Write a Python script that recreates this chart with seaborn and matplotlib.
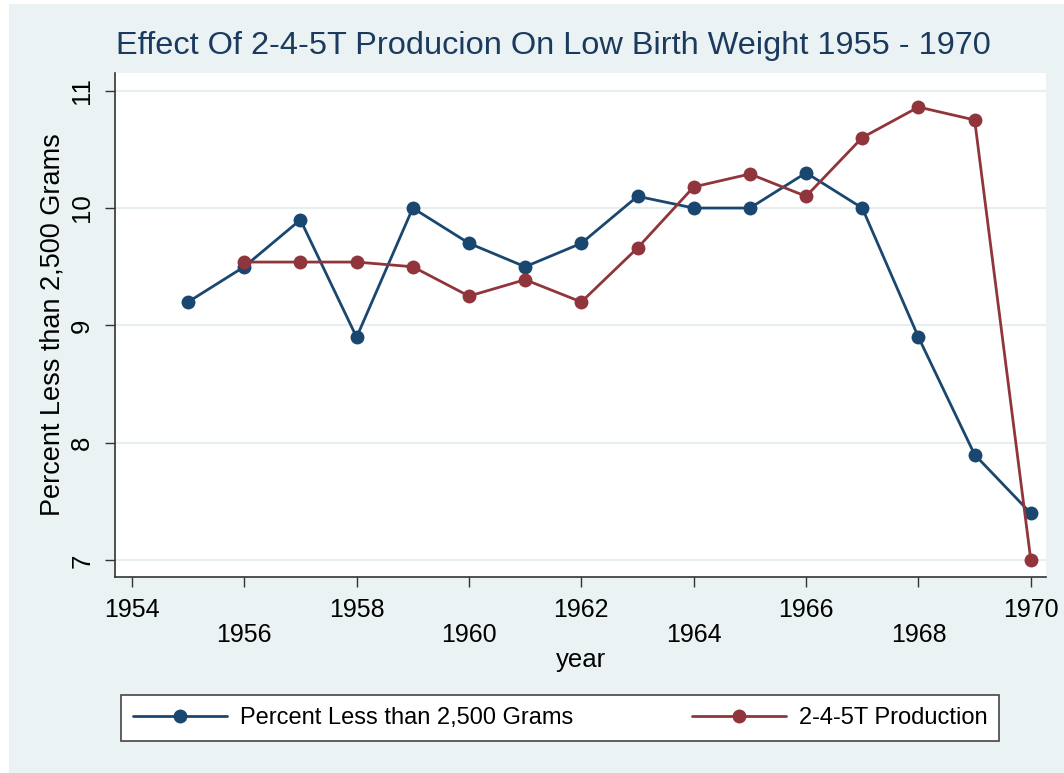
import numpy as np
import pandas as pd
import seaborn as sns
import matplotlib.pyplot as plt
from matplotlib.patches import Rectangle

years = list(range(1955, 1971))
low_birth_pct = [9.2, 9.5, 9.9, 8.9, 10.0, 9.7, 9.5, 9.7, 10.1, 10.0, 10.0, 10.3, 10.0, 8.9, 7.9, 7.4]
production = [np.nan, 9.54, 9.54, 9.54, 9.5, 9.25, 9.39, 9.2, 9.66, 10.18, 10.29, 10.1, 10.6, 10.86, 10.75, 7.0]
series_names = ["Percent Less than 2,500 Grams", "2-4-5T Production"]
series_colors = ["#1a476f", "#90353b"]
x_ticks = list(range(1954, 1971, 2))
y_ticks = [7, 8, 9, 10, 11]

df = pd.DataFrame({"year": years, series_names[0]: low_birth_pct, series_names[1]: production})
df_long = df.melt(id_vars="year", var_name="series", value_name="value").dropna()

sns.set_style("white")
plt.rcParams["font.family"] = ["Liberation Sans", "DejaVu Sans"]
plt.rcParams["text.color"] = "black"
plt.rcParams["axes.labelcolor"] = "black"
plt.rcParams["xtick.color"] = "black"
plt.rcParams["ytick.color"] = "black"

bg = "#eaf2f3"
fig = plt.figure(figsize=(10.64, 7.73), dpi=100, facecolor="white")
fig.patches.append(Rectangle((9 / 1064, 0), 1, 1 - 4 / 773, transform=fig.transFigure,
                             facecolor=bg, edgecolor="none", zorder=-10))
ax = fig.add_axes([115 / 1064, 1 - 577 / 773, (1046 - 115) / 1064, (577 - 73) / 773])
ax.set_facecolor("white")

sns.lineplot(data=df_long, x="year", y="value", hue="series", hue_order=series_names,
             palette=series_colors, marker="o", markersize=10, markeredgewidth=0,
             linewidth=2, ax=ax, legend=True)

ax.set_xlim(1953.70, 1970.27)
ax.set_ylim(6.858, 11.15)
ax.set_xticks(x_ticks)
ax.set_xticklabels([str(y) if i % 2 == 0 else "\n" + str(y) for i, y in enumerate(x_ticks)],
                   fontsize=18, linespacing=1.05)
ax.set_yticks(y_ticks)
ax.set_yticklabels([str(v) for v in y_ticks], fontsize=18.5, rotation=90, va="center")
ax.tick_params(axis="both", direction="out", length=7, width=1, color="#333333",
               pad=8, bottom=True, left=True)
ax.grid(axis="y", color="#e6eef0", linewidth=1.5)
ax.grid(axis="x", visible=False)
ax.set_axisbelow(True)

for s in ["top", "right"]:
    ax.spines[s].set_visible(False)
for s in ["left", "bottom"]:
    ax.spines[s].set_color("#333333")
    ax.spines[s].set_linewidth(1.2)

ax.set_xlabel("year", fontsize=18.5, labelpad=1)
ax.set_ylabel("Percent Less than 2,500 Grams", fontsize=19.5, labelpad=3)

handles, labels = ax.get_legend_handles_labels()
ax.get_legend().remove()
leg = fig.legend(handles, labels, loc="lower left", ncol=2,
                 bbox_to_anchor=(121 / 1064, 1 - 741 / 773),
                 fontsize=17, frameon=True, fancybox=False, handlelength=4.0,
                 borderaxespad=0, borderpad=0.5, handletextpad=0.55, columnspacing=5.0)
leg.get_frame().set_edgecolor("#444444")
leg.get_frame().set_linewidth(1.2)
leg.get_frame().set_facecolor("white")
leg.get_frame().set_alpha(1)

fig.text(553 / 1064, 1 - 46 / 773, "Effect Of 2-4-5T Producion On Low Birth Weight 1955 - 1970",
         fontsize=23.4, color="#1c3a5e", ha="center", va="center")

fig.savefig("out.png", dpi=100, facecolor=fig.get_facecolor())
